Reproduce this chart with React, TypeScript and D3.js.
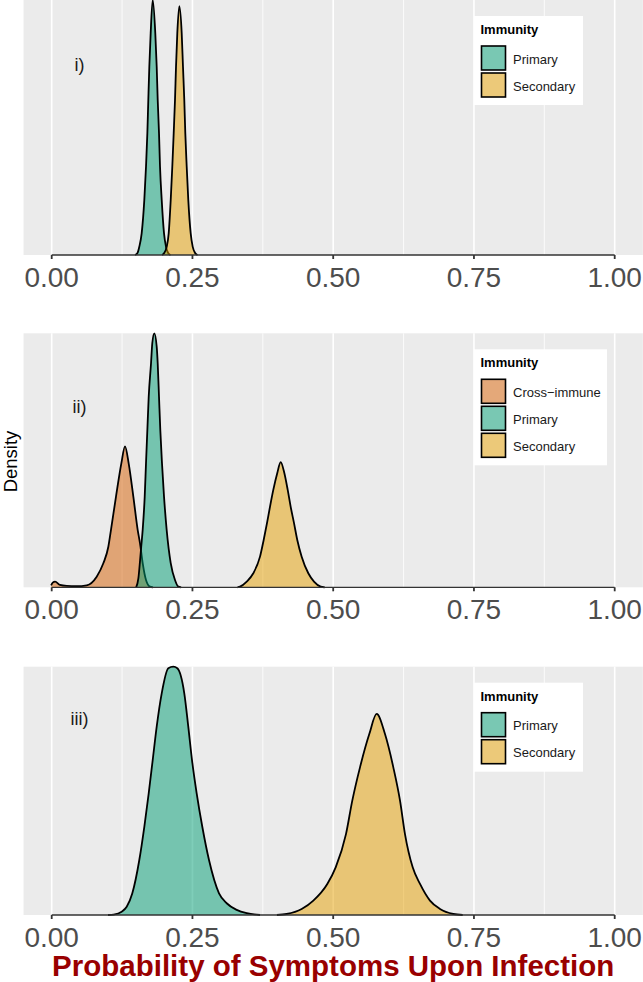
import React from "react";
import * as d3 from "d3";

// ---------- data ----------
const xTicks = [0, 0.25, 0.5, 0.75, 1];
const xTickLabels = ["0.00", "0.25", "0.50", "0.75", "1.00"];
const xMinorTicks = [0.125, 0.375, 0.625, 0.875];
const panelLabels = ["i)", "ii)", "iii)"];
const seriesNames = ["Cross\u2212immune", "Primary", "Secondary"];
const seriesColors = ["#D55E00", "#009E73", "#E69F00"];
const legendTitle = "Immunity";
const xAxisTitle = "Probability of Symptoms Upon Infection";
const yAxisTitle = "Density";

// Panel i)
const p1PrimaryX = [0.148, 0.1521, 0.1556, 0.1598, 0.1645, 0.1675, 0.1699, 0.1716, 0.1734, 0.1758, 0.1794, 0.184, 0.1865, 0.1883, 0.1906, 0.1924, 0.1954, 0.1995, 0.203, 0.2071, 0.211];
const p1PrimaryY = [0, 0.36, 1.78, 4.64, 11.8, 18.9, 26.1, 33.2, 40.3, 47.5, 54.6, 47.5, 40.3, 33.2, 26.1, 18.9, 11.8, 4.64, 1.78, 0.36, 0];
const p1SecondaryX = [0.196, 0.1995, 0.2043, 0.2078, 0.2114, 0.2142, 0.2167, 0.219, 0.2208, 0.2231, 0.2267, 0.2309, 0.2332, 0.2355, 0.2373, 0.2398, 0.2426, 0.2469, 0.2504, 0.2551, 0.259];
const p1SecondaryY = [0, 0.36, 1.78, 4.64, 11.8, 18.9, 26.1, 33.2, 40.3, 47.5, 53.3, 47.5, 40.3, 33.2, 26.1, 18.9, 11.8, 4.64, 1.78, 0.36, 0];

// Panel ii)
const p2CrossX = [-0.001, 0.0018, 0.006, 0.0147, 0.0266, 0.0444, 0.0622, 0.0799, 0.0917, 0.1006, 0.1053, 0.1142, 0.1237, 0.1302, 0.1367, 0.145, 0.1527, 0.1568, 0.1616, 0.1675, 0.1746, 0.18];
const p2CrossY = [0.3, 0.77, 0.94, 0.39, 0.22, 0.17, 0.33, 1.76, 3.97, 6.7, 9.5, 15.0, 20.5, 23.3, 20.5, 15.0, 9.5, 7.3, 4.0, 1.2, 0.1, 0];
const p2PrimaryX = [0.15, 0.154, 0.157, 0.159, 0.1616, 0.1652, 0.1675, 0.1699, 0.1723, 0.1764, 0.1787, 0.1823, 0.1865, 0.1883, 0.1906, 0.1929, 0.1959, 0.1995, 0.2042, 0.2114, 0.219, 0.2249, 0.23];
const p2PrimaryY = [0, 1.5, 4.5, 6.7, 9.5, 15.0, 20.5, 26.0, 31.5, 37.0, 40.4, 42, 39.8, 37.0, 31.5, 26.0, 20.5, 15.0, 9.5, 4.0, 1.2, 0.1, 0];
const p2SecondaryX = [0.33, 0.3345, 0.3464, 0.3581, 0.37, 0.3765, 0.3824, 0.3877, 0.3936, 0.4007, 0.4067, 0.4132, 0.4192, 0.4245, 0.4304, 0.4362, 0.444, 0.4558, 0.4659, 0.4778, 0.485];
const p2SecondaryY = [0, 0.11, 0.94, 2.32, 5.07, 7.83, 10.6, 13.3, 16.1, 18.9, 20.7, 18.9, 16.1, 13.3, 10.6, 7.83, 5.07, 2.32, 0.94, 0.11, 0];

// Panel iii)
const p3PrimaryX = [0.1, 0.11, 0.1243, 0.1332, 0.1432, 0.1556, 0.1645, 0.1723, 0.1794, 0.1865, 0.1954, 0.2071, 0.216, 0.2231, 0.2355, 0.2426, 0.2492, 0.2575, 0.2675, 0.2794, 0.2972, 0.3108, 0.3286, 0.3464, 0.37];
const p3PrimaryY = [0, 0.02, 0.15, 0.37, 0.98, 2.48, 3.98, 5.49, 6.99, 8.5, 10.0, 11.13, 11.2, 11.13, 10.0, 8.5, 6.99, 5.49, 3.98, 2.48, 0.98, 0.53, 0.23, 0.08, 0];
const p3SecondaryX = [0.4, 0.4174, 0.444, 0.4647, 0.4895, 0.5044, 0.5227, 0.5339, 0.5476, 0.5641, 0.5772, 0.592, 0.6068, 0.6187, 0.6275, 0.6412, 0.6542, 0.6719, 0.6897, 0.7133, 0.73];
const p3SecondaryY = [0, 0.045, 0.27, 0.65, 1.4, 2.15, 3.65, 5.16, 6.66, 8.16, 9.07, 8.16, 6.66, 5.16, 3.65, 2.15, 1.4, 0.65, 0.27, 0.045, 0];

// ---------- assembled panel table ----------
type Series = { name: string; color: string; xs: number[]; ys: number[] };
const panels: { label: string; top: number; bottom: number; labelY: number; series: Series[] }[] = [
  {
    label: panelLabels[0], top: 0, bottom: 255, labelY: 71,
    series: [
      { name: seriesNames[1], color: seriesColors[1], xs: p1PrimaryX, ys: p1PrimaryY },
      { name: seriesNames[2], color: seriesColors[2], xs: p1SecondaryX, ys: p1SecondaryY },
    ],
  },
  {
    label: panelLabels[1], top: 333.3, bottom: 587.3, labelY: 413,
    series: [
      { name: seriesNames[0], color: seriesColors[0], xs: p2CrossX, ys: p2CrossY },
      { name: seriesNames[1], color: seriesColors[1], xs: p2PrimaryX, ys: p2PrimaryY },
      { name: seriesNames[2], color: seriesColors[2], xs: p2SecondaryX, ys: p2SecondaryY },
    ],
  },
  {
    label: panelLabels[2], top: 666.7, bottom: 915, labelY: 725,
    series: [
      { name: seriesNames[1], color: seriesColors[1], xs: p3PrimaryX, ys: p3PrimaryY },
      { name: seriesNames[2], color: seriesColors[2], xs: p3SecondaryX, ys: p3SecondaryY },
    ],
  },
];

const W = 643;
const H = 982;
const FONT = "'Liberation Sans', Arial, Helvetica, sans-serif";

const x = d3.scaleLinear().domain([0, 1]).range([51.7, 614.7]);
const panelLeft = x(-0.05);
const panelRight = x(1.05);

function Panel({ p }: { p: (typeof panels)[number] }) {
  const yMax = d3.max(p.series.flatMap((s) => s.ys)) as number;
  const y = d3.scaleLinear().domain([0, yMax]).range([p.bottom, p.top]);
  const legendW = p.series.length === 3 ? 133 : 109;
  const lx = 474;
  const ly = p.top + 16;
  return (
    <g>
      <rect x={panelLeft} y={p.top} width={panelRight - panelLeft} height={p.bottom - p.top} fill="#EBEBEB" />
      {xMinorTicks.map((t) => (
        <line key={"mi" + t} x1={x(t)} x2={x(t)} y1={p.top} y2={p.bottom} stroke="#FFFFFF" strokeWidth={0.8} />
      ))}
      {xTicks.map((t) => (
        <line key={"ma" + t} x1={x(t)} x2={x(t)} y1={p.top} y2={p.bottom} stroke="#FFFFFF" strokeWidth={1.6} />
      ))}
      {p.series.map((s) => {
        const pts: [number, number][] = s.xs.map((xv, i) => [xv, s.ys[i]]);
        const a = d3
          .area<[number, number]>()
          .x((d) => x(d[0]))
          .y0(p.bottom)
          .y1((d) => y(d[1]))
          .curve(d3.curveMonotoneX);
        const l = d3
          .line<[number, number]>()
          .x((d) => x(d[0]))
          .y((d) => y(d[1]))
          .curve(d3.curveMonotoneX);
        return (
          <g key={s.name}>
            <path d={a(pts) || ""} fill={s.color} fillOpacity={0.5} stroke="none" />
            <path d={l(pts) || ""} fill="none" stroke="#000000" strokeWidth={1.8} strokeLinejoin="round" />
          </g>
        );
      })}
      {/* axis line and ticks */}
      <line x1={x(0)} x2={x(1)} y1={p.bottom} y2={p.bottom} stroke="#333333" strokeWidth={1.3} />
      {xTicks.map((t, i) => (
        <g key={"t" + t}>
          <line x1={x(t)} x2={x(t)} y1={p.bottom} y2={p.bottom + 4} stroke="#333333" strokeWidth={1.8} />
          <text x={x(t)} y={p.bottom + 32} textAnchor="middle" fontFamily={FONT} fontSize={28} fill="#4D4D4D">
            {xTickLabels[i]}
          </text>
        </g>
      ))}
      <text x={79.5} y={p.labelY} textAnchor="middle" fontFamily={FONT} fontSize={18} fill="#1A1A1A">
        {p.label}
      </text>
      {/* legend */}
      <rect x={lx} y={ly} width={legendW} height={30 + p.series.length * 27 + 5} fill="#FFFFFF" />
      <text x={lx + 6.5} y={ly + 18} fontFamily={FONT} fontSize={13} fontWeight="bold" fill="#000000">
        {legendTitle}
      </text>
      {p.series.map((s, i) => (
        <g key={"lg" + s.name}>
          <rect x={lx + 7.5} y={ly + 30 + i * 27} width={24} height={24} fill="#F2F2F2" />
          <rect x={lx + 7.5} y={ly + 30 + i * 27} width={24} height={24} fill={s.color} fillOpacity={0.5} stroke="#000000" strokeWidth={1.6} />
          <text x={lx + 39} y={ly + 30 + i * 27 + 17.5} fontFamily={FONT} fontSize={13} fill="#1A1A1A">
            {s.name}
          </text>
        </g>
      ))}
    </g>
  );
}

export default function App() {
  return (
    <svg width={W} height={H} style={{ position: "absolute", left: 0, top: 0, background: "#FFFFFF" }}>
      <rect x={0} y={0} width={W} height={H} fill="#FFFFFF" />
      {panels.map((p) => (
        <Panel key={p.label} p={p} />
      ))}
      <text
        transform={`translate(16.5,461.5) rotate(-90)`}
        textAnchor="middle"
        fontFamily={FONT}
        fontSize={18.5}
        fill="#000000"
      >
        {yAxisTitle}
      </text>
      <text x={(x(0) + x(1)) / 2} y={976} textAnchor="middle" fontFamily={FONT} fontSize={29.5} fontWeight="bold" fill="#990000">
        {xAxisTitle}
      </text>
    </svg>
  );
}
